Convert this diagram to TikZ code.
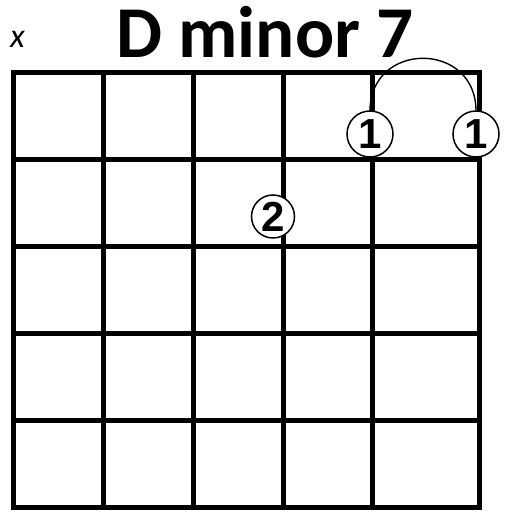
\documentclass[tikz,border=0pt]{standalone}
\usepackage{fontspec}
\setmainfont{Carlito}
\newfontfamily\digitfont{Liberation Sans}
\usetikzlibrary{positioning}
\tikzset{
  fret/.style = {line width=5pt, line cap=rect, line join=miter},
  finger/.style = {circle, draw=black, fill=white, line width=1.5pt, minimum size=46pt, inner sep=0pt, outer sep=0pt, text height=30pt, text depth=0pt, font=\digitfont\bfseries\fontsize{42}{42}\selectfont},
  barre/.style = {line width=1.4pt}
}

\begin{document}
\begin{tikzpicture}[x=1pt, y=1pt]
\useasboundingbox (0,0) rectangle (507,512);

% Title and muted string
\node[anchor=base, inner sep=0pt, font=\fontsize{73}{80}\selectfont\bfseries] (title) at (265,454) {D minor 7};
\node[anchor=base, inner sep=0pt, font=\fontsize{34}{34}\selectfont\itshape] (mute) at (17.5,464) {x};

% ----- GRID -----
\foreach \x in {103.5,193.5,283.5,372.5}
  \draw[fret] (\x,4.5) -- (\x,439);
\foreach \y in {352,265,178,91.5}
  \draw[fret] (13.5,\y) -- (479.5,\y);
\draw[fret] (13.5,4.5) rectangle (479.5,439);

% ----- FINGERS -----
\node[finger] (f1a) at (370,378) {1};
\node[finger] (f1b) at (476,378) {1};
\node[finger, minimum size=43pt] (f2) at (273,295.5) {2};

% Barre
\draw[barre] (f1a.north) to[out=90, in=90, looseness=1.7] (f1b.north);

\end{tikzpicture}
\end{document}
